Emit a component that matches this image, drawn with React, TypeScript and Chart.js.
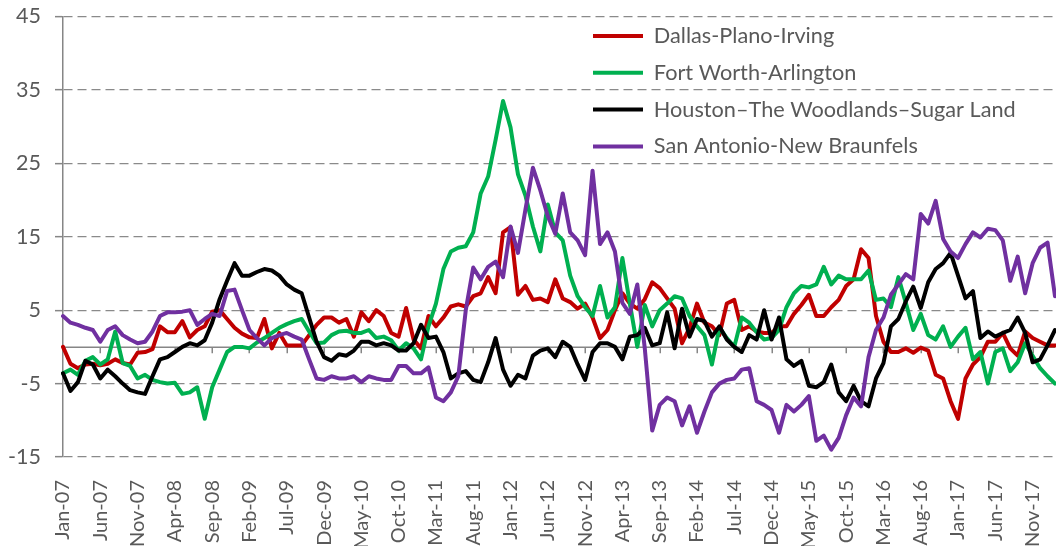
import React, { useEffect, useRef } from 'react';
import { Chart, registerables } from 'chart.js';

Chart.register(...registerables);

// ---- categories (monthly, Jan-07 .. Feb-18) ----
const MONTH_NAMES = ['Jan', 'Feb', 'Mar', 'Apr', 'May', 'Jun', 'Jul', 'Aug', 'Sep', 'Oct', 'Nov', 'Dec'];
const START_YEAR = 2007;
const MONTH_COUNT = 134;
const CATEGORIES: string[] = Array.from({ length: MONTH_COUNT }, (_, i) =>
  `${MONTH_NAMES[i % 12]}-${String((START_YEAR + Math.floor(i / 12)) % 100).padStart(2, '0')}`
);
const LABEL_EVERY = 5;

// ---- y axis ----
const Y_MIN = -15;
const Y_MAX = 45;
const Y_STEP = 10;

// ---- series ----
const SERIES_NAMES = [
  'Dallas-Plano-Irving',
  'Fort Worth-Arlington',
  'Houston\u2013The Woodlands\u2013Sugar Land',
  'San Antonio-New Braunfels',
];

const DALLAS = [
  0, -2.3, -2.9, -2.4, -2.3, -2.5, -2.3, -1.7, -2.2, -2.4,
  -0.8, -0.7, -0.3, 2.8, 2.0, 2.0, 3.5, 1.3, 2.3, 2.8,
  4.8, 5.0, 3.8, 2.6, 1.8, 1.3, 1.2, 3.8, -0.2, 1.9,
  0.2, 0.2, 0.2, 1.6, 3.0, 4.0, 4.0, 3.3, 3.8, 1.4,
  4.7, 3.5, 5.0, 4.2, 1.9, 1.4, 5.3, 1.0, -0.2, 4.2,
  2.8, 4.0, 5.5, 5.8, 5.5, 6.9, 7.3, 9.5, 7.3, 15.6,
  16.3, 7.1, 8.3, 6.4, 6.6, 6.1, 9.2, 6.6, 6.1, 5.2,
  5.9, 4.0, 1.2, 2.3, 5.0, 7.3, 5.9, 5.2, 6.5, 8.8,
  8.0, 6.6, 5.2, 0.5, 2.6, 5.9, 3.3, 2.8, 1.6, 5.9,
  6.4, 2.3, 2.8, 2.1, 1.9, 1.9, 2.8, 2.8, 4.5, 5.7,
  7.1, 4.2, 4.2, 5.4, 6.4, 8.3, 9.2, 13.3, 12.1, 4.2,
  0.7, -0.7, -0.7, -0.2, -0.8, -0.1, -0.5, -3.8, -4.3, -7.4,
  -9.8, -4.3, -2.4, -1.4, 0.7, 0.7, 1.9, -0.2, -1.2, 2.1,
  1.2, 0.7, 0.2, 0.2,
];

const FORT_WORTH = [
  -3.6, -3.1, -3.8, -1.9, -1.4, -2.4, -1.7, 2.1, -2.2, -2.6,
  -4.3, -3.8, -4.5, -4.8, -5.0, -4.9, -6.4, -6.2, -5.5, -9.8,
  -5.5, -3.1, -0.7, 0, 0, -0.2, 0.6, 1.2, 1.9, 2.6,
  3.1, 3.5, 3.8, 2.1, 0.5, 0.6, 1.6, 2.1, 2.2, 1.9,
  1.9, 2.3, 1.2, 1.4, 0.9, -0.5, 0.5, -0.2, -1.7, 2.8,
  5.9, 10.6, 13.0, 13.5, 13.7, 15.6, 20.9, 23.2, 28.2, 33.5,
  29.9, 23.5, 20.6, 16.4, 13.0, 19.4, 15.6, 14.5, 9.7, 6.9,
  5.4, 4.2, 8.3, 4.0, 5.4, 12.1, 5.9, 0, 5.7, 2.8,
  5.0, 5.9, 6.9, 6.6, 4.2, 2.8, 1.6, -2.4, 2.6, 1.2,
  0, 4.0, 3.3, 2.0, 1.0, 1.2, 2.3, 5.4, 7.3, 8.3,
  8.1, 8.5, 10.9, 8.5, 9.7, 9.2, 9.2, 9.2, 10.4, 6.4,
  6.6, 5.4, 9.5, 6.0, 2.3, 4.5, 1.6, 1.0, 2.8, 0,
  1.4, 2.6, -1.7, -0.7, -5.0, -0.7, -0.2, -3.3, -2.1, 0.5,
  -1.2, -2.9, -4.0, -5.0,
];

const HOUSTON = [
  -3.6, -6.0, -4.8, -1.9, -2.4, -4.3, -3.1, -4.0, -5.0, -5.9,
  -6.2, -6.4, -4.0, -1.7, -1.4, -0.7, 0, 0.5, 0.2, 0.9,
  3.3, 6.5, 9.0, 11.4, 9.7, 9.7, 10.2, 10.6, 10.4, 9.7,
  8.5, 7.8, 7.3, 4.0, 0.7, -1.4, -1.9, -1.0, -1.2, -0.5,
  0.7, 0.7, 0.2, 0.5, 0.2, -0.5, -0.5, 0.5, 3.0, 1.2,
  1.4, -0.7, -4.3, -3.6, -3.3, -4.5, -4.8, -2.1, 1.2, -3.1,
  -5.3, -3.8, -4.3, -1.2, -0.5, -0.2, -1.4, 0.7, 0, -2.4,
  -4.5, -0.7, 0.5, 0.5, 0, -1.7, 1.4, 1.6, 2.6, 0.2,
  0.5, 4.7, -0.2, 5.2, 1.4, 3.8, 3.5, 1.4, 2.8, 1.0,
  0, -0.7, 1.6, 1.0, 5.0, 1.0, 4.0, -1.7, -2.6, -1.9,
  -5.3, -5.5, -4.8, -2.4, -6.2, -7.4, -5.3, -7.4, -8.1, -4.3,
  -2.2, 2.8, 3.8, 6.2, 8.2, 5.3, 8.8, 10.6, 11.4, 12.8,
  9.7, 6.6, 7.6, 1.2, 2.1, 1.4, 1.9, 2.3, 4.0, 1.9,
  -2.1, -1.7, 0.2, 2.3,
];

const SAN_ANTONIO = [
  4.2, 3.3, 3.0, 2.6, 2.3, 0.7, 2.3, 2.8, 1.6, 1.0,
  0.5, 0.7, 2.1, 4.2, 4.7, 4.7, 4.8, 5.0, 3.0, 3.8,
  4.5, 4.2, 7.6, 7.8, 5.0, 2.3, 1.2, 0.2, 1.2, 1.6,
  1.9, 1.4, 1.0, -1.7, -4.3, -4.5, -4.0, -4.3, -4.3, -4.0,
  -4.8, -4.0, -4.3, -4.5, -4.5, -2.6, -2.6, -3.6, -3.6, -2.8,
  -6.9, -7.4, -6.2, -4.0, 5.0, 10.8, 9.2, 10.9, 11.6, 9.5,
  16.4, 12.8, 18.7, 24.4, 21.3, 17.8, 15.4, 20.9, 15.6, 14.5,
  12.5, 24.0, 14.0, 15.6, 13.0, 6.0, 4.5, 8.5, -0.2, -11.4,
  -7.9, -6.9, -7.4, -10.7, -8.1, -11.7, -8.8, -6.2, -5.0, -4.5,
  -4.3, -3.1, -2.9, -7.4, -7.9, -8.6, -11.7, -7.9, -8.8, -7.9,
  -6.7, -12.8, -12.1, -14.0, -12.4, -9.3, -6.9, -8.1, -1.4, 2.3,
  4.0, 7.1, 8.5, 9.9, 9.2, 18.1, 16.8, 19.9, 14.7, 13.0,
  12.1, 14.0, 15.6, 14.9, 16.1, 15.9, 14.5, 9.0, 12.3, 7.3,
  11.4, 13.5, 14.2, 6.9,
];

const SERIES_VALUES = [DALLAS, FORT_WORTH, HOUSTON, SAN_ANTONIO];
const SERIES_COLORS = ['#C00000', '#00B050', '#000000', '#7030A0'];

// ---- styles ----
const FONT_FAMILY = 'Lato, "Open Sans", sans-serif';
const Y_TICK_FONT_SIZE = 21.5;
const X_TICK_FONT_SIZE = 20;
const TEXT_COLOR = '#595959';
const GRID_COLOR = '#8a8a8a';
const AXIS_COLOR = '#868686';
const LEGEND_X = 593;
const LEGEND_FIRST_ROW_CENTER = 36;
const LEGEND_FONT_SIZE = 21.7;
const LEGEND_ROW_STEP = 36.8;
const LEGEND_PADDING = LEGEND_ROW_STEP - LEGEND_FONT_SIZE;

const zeroAxisPlugin = {
  id: 'zeroAxis',
  beforeDatasetsDraw(chart: any) {
    const { ctx, chartArea, scales } = chart;
    const x = scales.x;
    const y = scales.y;
    const y0 = Math.round(y.getPixelForValue(0)) + 0.25;
    ctx.save();
    ctx.strokeStyle = AXIS_COLOR;
    ctx.lineWidth = 1.5;
    ctx.setLineDash([]);
    ctx.beginPath();
    ctx.moveTo(chartArea.left, y0);
    ctx.lineTo(chartArea.right, y0);
    for (let i = LABEL_EVERY; i < CATEGORIES.length; i += LABEL_EVERY) {
      const px = Math.round(x.getPixelForValue(i)) + 0.25;
      ctx.moveTo(px, y0);
      ctx.lineTo(px, y0 + 6);
    }
    ctx.stroke();
    ctx.restore();
  },
};

const legendPlacerPlugin = {
  id: 'legendPlacer',
  afterLayout(chart: any) {
    const lg = chart.legend;
    if (!lg) return;
    lg.left = LEGEND_X - LEGEND_PADDING;
    lg.top = LEGEND_FIRST_ROW_CENTER - LEGEND_FONT_SIZE / 2 - LEGEND_PADDING;
  },
};

export default function App() {
  const canvasRef = useRef<HTMLCanvasElement | null>(null);

  useEffect(() => {
    const canvas = canvasRef.current;
    if (!canvas) return;
    const chart = new Chart(canvas, {
      type: 'line',
      data: {
        labels: CATEGORIES,
        datasets: SERIES_NAMES.map((name, k) => ({
          label: name,
          data: SERIES_VALUES[k],
          borderColor: SERIES_COLORS[k],
          backgroundColor: SERIES_COLORS[k],
          borderWidth: 4,
          pointRadius: 0,
          tension: 0,
          fill: false,
          borderJoinStyle: 'round' as const,
          borderCapStyle: 'round' as const,
          order: SERIES_NAMES.length - k,
        })),
      },
      options: {
        animation: false,
        responsive: false,
        devicePixelRatio: 1,
        events: [],
        layout: { padding: { top: 16.5, right: 1, left: 0, bottom: 0 } },
        plugins: {
          legend: {
            position: 'chartArea' as any,
            align: 'start',
            labels: {
              boxWidth: 50,
              boxHeight: 4,
              padding: LEGEND_PADDING,
              color: TEXT_COLOR,
              font: { family: FONT_FAMILY, size: LEGEND_FONT_SIZE },
              sort: (a: any, b: any) => a.datasetIndex - b.datasetIndex,
              generateLabels: (c: any) =>
                Chart.defaults.plugins.legend.labels.generateLabels(c).map((l: any) => ({
                  ...l,
                  fillStyle: l.strokeStyle,
                  lineWidth: 0,
                })),
            },
          },
          tooltip: { enabled: false },
        },
        scales: {
          x: {
            type: 'category',
            grid: { display: false },
            border: { display: false },
            ticks: {
              autoSkip: false,
              maxRotation: 90,
              minRotation: 90,
              padding: 15,
              color: TEXT_COLOR,
              font: { family: FONT_FAMILY, size: X_TICK_FONT_SIZE },
              callback: (_v: any, i: number) => (i % LABEL_EVERY === 0 ? CATEGORIES[i] : ''),
            },
            afterFit: (s: any) => {
              s.height = 89;
              s.paddingLeft = 0;
              s.paddingRight = 0;
            },
          },
          y: {
            min: Y_MIN,
            max: Y_MAX,
            ticks: {
              stepSize: Y_STEP,
              padding: 14,
              color: TEXT_COLOR,
              font: { family: FONT_FAMILY, size: Y_TICK_FONT_SIZE },
            },
            grid: {
              color: GRID_COLOR,
              lineWidth: 1.3,
              tickLength: 8,
              tickColor: AXIS_COLOR,
              tickWidth: 1.5,
              tickBorderDash: [],
            },
            border: {
              display: true,
              color: AXIS_COLOR,
              width: 1.5,
              dash: (c: any) => (c.type === 'tick' ? [9, 5] : []),
            },
            afterFit: (s: any) => {
              s.width = 63;
              s.paddingTop = 0;
              s.paddingBottom = 0;
            },
          },
        },
      },
      plugins: [zeroAxisPlugin, legendPlacerPlugin],
    });
    return () => chart.destroy();
  }, []);

  return (
    <div style={{ position: 'absolute', left: 0, top: 0, width: 1056, height: 546, background: '#fff' }}>
      <canvas ref={canvasRef} width={1056} height={546} style={{ display: 'block' }} />
    </div>
  );
}
